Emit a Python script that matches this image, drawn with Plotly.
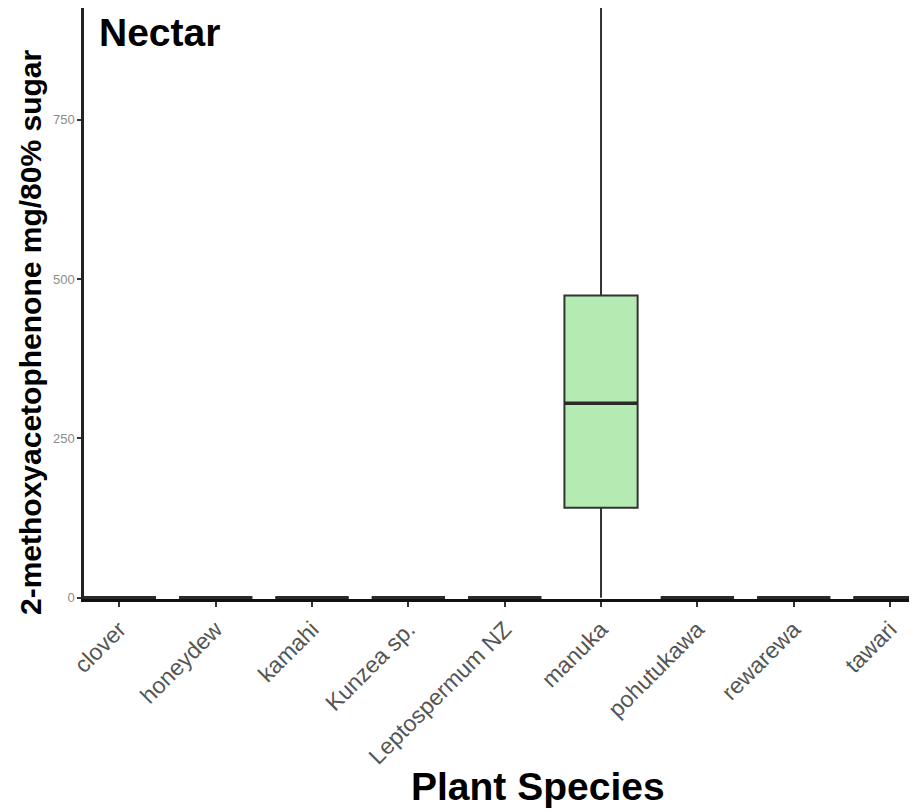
import plotly.graph_objects as go

species = ["clover", "honeydew", "kamahi", "Kunzea sp.", "Leptospermum NZ",
           "manuka", "pohutukawa", "rewarewa", "tawari"]
lower = [0, 0, 0, 0, 0, 0, 0, 0, 0]
q1 = [0, 0, 0, 0, 0, 141, 0, 0, 0]
median = [0, 0, 0, 0, 0, 305, 0, 0, 0]
q3 = [0, 0, 0, 0, 0, 474, 0, 0, 0]
upper = [0, 0, 0, 0, 0, 950, 0, 0, 0]
y_ticks = [0, 250, 500, 750]

# page has an 8px body margin; figure is sized to fit the 917x812 window
OFF = 8
W, H = 917 - OFF, 812 - OFF
L, R, T, B = 84 - OFF, 0, 0, 812 - 599
pw, ph = W - L - R, H - T - B

def px_x(x):  # page pixel -> paper
    return (x - 84) / pw

def px_y(y):
    return (599 - y) / ph

fig = go.Figure()
fig.add_trace(go.Box(
    x=species, q1=q1, median=median, q3=q3,
    lowerfence=lower, upperfence=upper,
    fillcolor="#b3ebb3",
    line=dict(color="#333333", width=2),
    width=0.76,
    boxpoints=False,
    whiskerwidth=0,
    showlegend=False,
    hoverinfo="skip",
))
# thicker median bar (ggplot style)
fig.add_trace(go.Box(
    x=species, q1=median, median=median, q3=median,
    lowerfence=median, upperfence=median,
    fillcolor="rgba(0,0,0,0)",
    line=dict(color="#2a2a2a", width=3.5),
    width=0.76,
    boxpoints=False,
    whiskerwidth=0,
    showlegend=False,
    hoverinfo="skip",
))

bold = "Liberation Sans, Arial, sans-serif"

fig.update_layout(
    width=W, height=H,
    margin=dict(l=L, r=R, t=T, b=B),
    boxmode="overlay",
    plot_bgcolor="white", paper_bgcolor="white",
    xaxis=dict(
        type="category", range=[-0.367, 8.28],
        showline=True, linecolor="#111111", linewidth=2.5,
        ticks="outside", ticklen=5, tickcolor="#333333", tickwidth=1.5,
        tickangle=-45,
        tickfont=dict(family="Liberation Sans, Arial, sans-serif", size=23, color="#555555"),
        showgrid=False, zeroline=False,
    ),
    yaxis=dict(
        range=[-2, 925],
        tickvals=y_ticks,
        showline=True, linecolor="#222222", linewidth=2.5,
        ticks="outside", ticklen=4, tickcolor="#333333", tickwidth=1.5,
        tickfont=dict(family="Liberation Sans, Arial, sans-serif", size=13, color="#8c8c8c"),
        showgrid=False, zeroline=False,
    ),
    annotations=[
        dict(text="<b>Nectar</b>", xref="paper", yref="paper",
             x=px_x(97), y=px_y(9), xanchor="left", yanchor="top",
             showarrow=False, font=dict(family=bold, size=39, color="black")),
        dict(text="<b>Plant Species</b>", xref="paper", yref="paper",
             x=px_x(538), y=px_y(786), xanchor="center", yanchor="middle",
             showarrow=False, font=dict(family=bold, size=39, color="black")),
        dict(text="<b>2-methoxyacetophenone mg/80% sugar</b>", xref="paper", yref="paper",
             x=px_x(30), y=px_y(333), xanchor="center", yanchor="middle",
             textangle=-90,
             showarrow=False, font=dict(family=bold, size=30, color="black")),
    ],
)

fig.write_html("out.html")
